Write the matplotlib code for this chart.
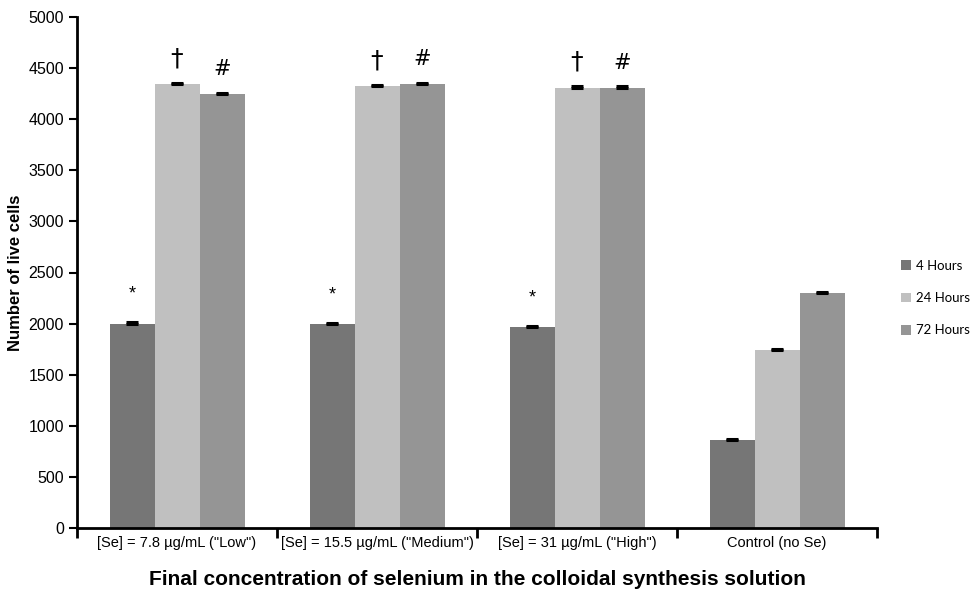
import matplotlib
matplotlib.use("Agg")
import matplotlib.pyplot as plt
import numpy as np

plt.rcParams['font.family'] = ['Liberation Sans', 'DejaVu Sans']

categories = ['[Se] = 7.8 \u00b5g/mL ("Low")',
              '[Se] = 15.5 \u00b5g/mL ("Medium")',
              '[Se] = 31 \u00b5g/mL ("High")',
              'Control (no Se)']
series_names = ['4 Hours', '24 Hours', '72 Hours']
hours_4 = [2000, 1995, 1965, 865]
hours_24 = [4345, 4320, 4310, 1740]
hours_72 = [4250, 4345, 4310, 2300]
err_4 = [12, 10, 12, 10]
err_24 = [12, 10, 10, 10]
err_72 = [10, 10, 10, 10]
marks_4 = ['*', '*', '*', '']
marks_24 = ['\u2020', '\u2020', '\u2020', '']
marks_72 = ['#', '#', '#', '']
colors = ['#767676', '#c0c0c0', '#959595']

fig = plt.figure(figsize=(9.74, 5.93), dpi=100)
ax = fig.add_axes([77/974, 1 - 528/593, 800/974, 511/593])

x = np.arange(len(categories))
w = 0.225
values = [hours_4, hours_24, hours_72]
errs = [err_4, err_24, err_72]
marks = [marks_4, marks_24, marks_72]
for i, (vals, er, mk, col, name) in enumerate(zip(values, errs, marks, colors, series_names)):
    pos = x + (i - 1) * w
    ax.bar(pos, vals, width=w, color=col, label=name, zorder=2)
    ax.errorbar(pos, vals, yerr=[np.zeros(len(er)), er], fmt='none', ecolor='black',
                elinewidth=1.0, capsize=4.3, capthick=2.2, zorder=3)
    for p, v, e, m in zip(pos, vals, er, mk):
        if not m:
            continue
        if m == '*':
            ax.annotate(m, (p, v + e), xytext=(0, 14), textcoords='offset points',
                        ha='center', va='bottom', fontsize=13)
        elif m == '#':
            ax.annotate(m, (p, v + e), xytext=(0, 10), textcoords='offset points',
                        ha='center', va='bottom', fontsize=15, family='DejaVu Sans')
        else:
            ax.annotate(m, (p, v + e), xytext=(0, 9), textcoords='offset points',
                        ha='center', va='bottom', fontsize=18, family='DejaVu Sans')

ax.set_xlim(-0.5, len(categories) - 0.5)
ax.set_ylim(0, 5000)
ax.set_yticks(np.arange(0, 5001, 500))
ax.tick_params(axis='y', labelsize=11.5, length=6, width=1.5, direction='out')
ax.set_xticks(x)
ax.set_xticklabels(categories, fontsize=10.5)
ax.tick_params(axis='x', which='major', length=0, pad=6)
ax.set_xticks(np.arange(-0.5, len(categories), 1.0), minor=True)
ax.tick_params(axis='x', which='minor', length=7, width=2, direction='out')

for s in ['top', 'right']:
    ax.spines[s].set_visible(False)
for s in ['left', 'bottom']:
    ax.spines[s].set_linewidth(2)

ax.set_ylabel('Number of live cells', fontsize=12, fontweight='bold', labelpad=4)
ax.set_xlabel('Final concentration of selenium in the colloidal synthesis solution',
              fontsize=15, fontweight='bold', labelpad=14)

leg = fig.legend(loc='center left', bbox_to_anchor=(898/974, 1 - 298/593), frameon=False,
                 prop={'family': 'Lato', 'size': 9.5},
                 handlelength=0.75, handleheight=0.75, handletextpad=0.4,
                 labelspacing=1.55, borderaxespad=0, borderpad=0.2)

fig.savefig('out.png', dpi=100)
